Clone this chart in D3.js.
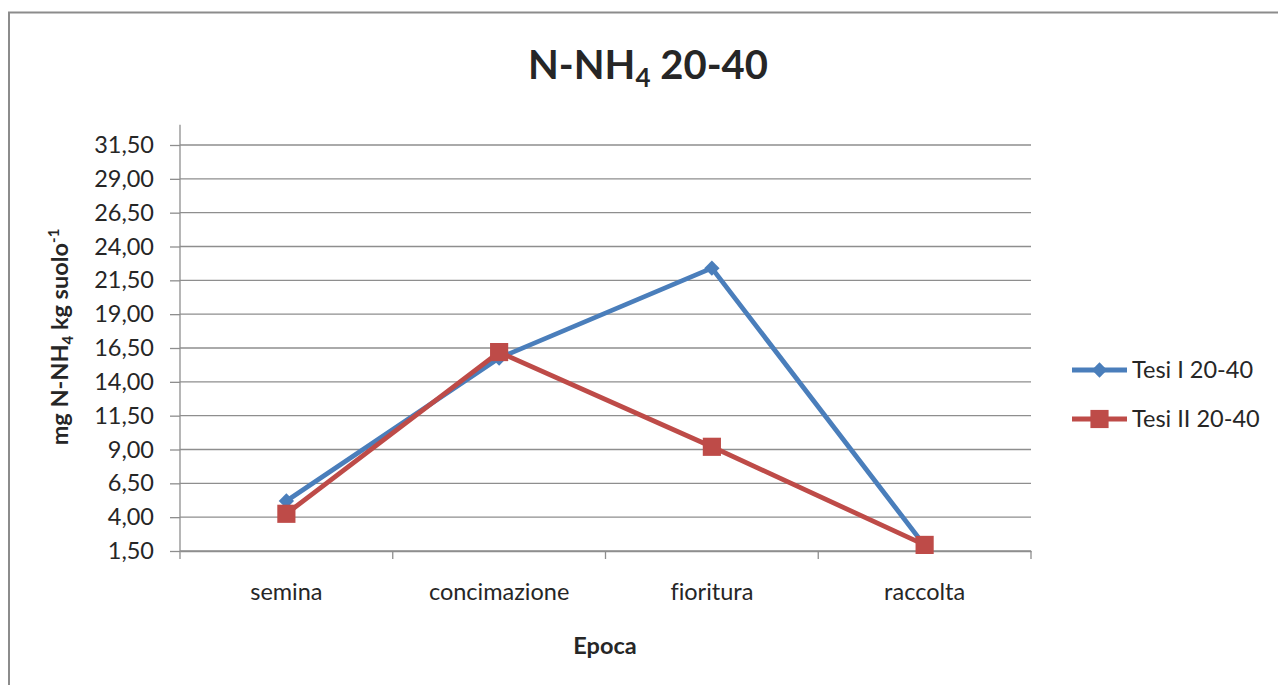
<!DOCTYPE html>
<html>
<head>
<meta charset="utf-8">
<script src="https://cdn.jsdelivr.net/npm/d3@7"></script>
<style>
  html, body { margin: 0; padding: 0; background: #fff; }
  svg { display: block; }
  text { font-family: Lato, "Open Sans", sans-serif; fill: #262626; font-variant-ligatures: none; }
</style>
</head>
<body>
<svg id="chart" width="1278" height="685"></svg>
<script>
const categories = ["semina", "concimazione", "fioritura", "raccolta"];
const seriesNames = ["Tesi I 20-40", "Tesi II 20-40"];
const tesiI = [5.2, 15.76, 22.4, 1.9];
const tesiII = [4.25, 16.2, 9.2, 1.95];
const yTicks = [1.5, 4, 6.5, 9, 11.5, 14, 16.5, 19, 21.5, 24, 26.5, 29, 31.5];
const yMin = 1.5, yMax = 33;
const colors = ["#4A7EBB", "#BE4B48"];

const svg = d3.select("#chart");

// outer frame
svg.append("rect").attr("x", 9).attr("y", 12.5).attr("width", 1300).attr("height", 700)
  .attr("fill", "#fff").attr("stroke", "#8c8c8c").attr("stroke-width", 2);

const pLeft = 180, pRight = 1031, pTop = 145, pBottom = 551;
const y = d3.scaleLinear().domain([yTicks[0], yTicks[yTicks.length - 1]]).range([pBottom, pTop]);
const x = d3.scaleBand().domain(categories).range([pLeft, pRight]).padding(0);
const cx = d => x(d) + x.bandwidth() / 2;
const fmt = v => d3.format(".2f")(v).replace(".", ",");
const FS = 23.5;

// gridlines
svg.append("g").selectAll("line").data(yTicks).join("line")
  .attr("x1", pLeft).attr("x2", pRight)
  .attr("y1", d => y(d)).attr("y2", d => y(d))
  .attr("stroke", "#8e8e8e").attr("stroke-width", 1.3);

// y axis
const yAxis = d3.axisLeft(y).tickValues(yTicks).tickFormat(fmt).tickSize(10).tickPadding(16);
const gy = svg.append("g").attr("transform", `translate(${pLeft},0)`).call(yAxis);
gy.select(".domain").remove();
gy.selectAll(".tick line").attr("stroke", "#8e8e8e").attr("stroke-width", 1.3);
gy.selectAll(".tick text").attr("font-size", FS).attr("font-family", "Lato, sans-serif").attr("fill", "#262626");
svg.append("line").attr("x1", pLeft).attr("x2", pLeft)
  .attr("y1", y(yMin)).attr("y2", y(yMax))
  .attr("stroke", "#8e8e8e").attr("stroke-width", 1.3);

// x axis
const xAxis = d3.axisBottom(x).tickSize(0).tickPadding(32);
const gx = svg.append("g").attr("transform", `translate(0,${pBottom})`).call(xAxis);
gx.select(".domain").attr("stroke", "#8e8e8e").attr("stroke-width", 1.3);
gx.selectAll(".tick text").attr("font-size", FS).attr("font-family", "Lato, sans-serif").attr("fill", "#262626");
// category boundary tick marks
const bounds = categories.map(c => x(c)).concat([pRight]);
svg.append("g").selectAll("line").data(bounds).join("line")
  .attr("x1", d => d).attr("x2", d => d)
  .attr("y1", pBottom).attr("y2", pBottom + 8)
  .attr("stroke", "#8e8e8e").attr("stroke-width", 1.3);

// lines
const allSeries = [tesiI, tesiII];
const line = d3.line().x((d, i) => cx(categories[i])).y(d => y(d));
allSeries.forEach((s, k) => {
  svg.append("path").datum(s).attr("d", line)
    .attr("fill", "none").attr("stroke", colors[k]).attr("stroke-width", 4.8)
    .attr("stroke-linejoin", "round");
});
// markers
const diamond = d3.symbol().type(d3.symbolDiamond2).size(150);
const square = d3.symbol().type(d3.symbolSquare).size(330);
svg.append("g").selectAll("path").data(tesiI).join("path")
  .attr("d", diamond)
  .attr("transform", (d, i) => `translate(${cx(categories[i])},${y(d)})`)
  .attr("fill", colors[0]);
svg.append("g").selectAll("path").data(tesiII).join("path")
  .attr("d", square)
  .attr("transform", (d, i) => `translate(${cx(categories[i])},${y(d)})`)
  .attr("fill", colors[1]);

// title
const title = svg.append("text").attr("x", 648).attr("y", 79).attr("text-anchor", "middle")
  .attr("font-size", 40).attr("font-weight", "bold").attr("fill", "#000");
title.append("tspan").text("N-NH");
title.append("tspan").text("4").attr("font-size", 26).attr("dy", 8);
title.append("tspan").text(" 20-40").attr("dy", -8);

// x axis title
svg.append("text").attr("x", 605).attr("y", 654).attr("text-anchor", "middle")
  .attr("font-size", FS).attr("font-weight", "bold").attr("fill", "#000").text("Epoca");

// y axis title
const yt = svg.append("text").attr("transform", "translate(68,337) rotate(-90)")
  .attr("text-anchor", "middle").attr("font-size", FS).attr("font-weight", "bold").attr("fill", "#000");
yt.append("tspan").text("mg N-NH");
yt.append("tspan").text("4").attr("font-size", 15).attr("dy", 5);
yt.append("tspan").text(" kg suolo").attr("dy", -5);
yt.append("tspan").text("-1").attr("font-size", 15).attr("dy", -9);

// legend
const legY = [370, 419];
seriesNames.forEach((n, k) => {
  const g = svg.append("g").attr("transform", `translate(1072,${legY[k]})`);
  g.append("line").attr("x1", 0).attr("x2", 55).attr("y1", 0).attr("y2", 0)
    .attr("stroke", colors[k]).attr("stroke-width", 4.8);
  g.append("path").attr("d", k === 0 ? diamond : square).attr("transform", "translate(27.5,0)")
    .attr("fill", colors[k]);
  g.append("text").attr("x", 60).attr("y", 0).attr("dy", "0.35em")
    .attr("font-size", FS).attr("fill", "#262626").text(n);
});
</script>
</body>
</html>
